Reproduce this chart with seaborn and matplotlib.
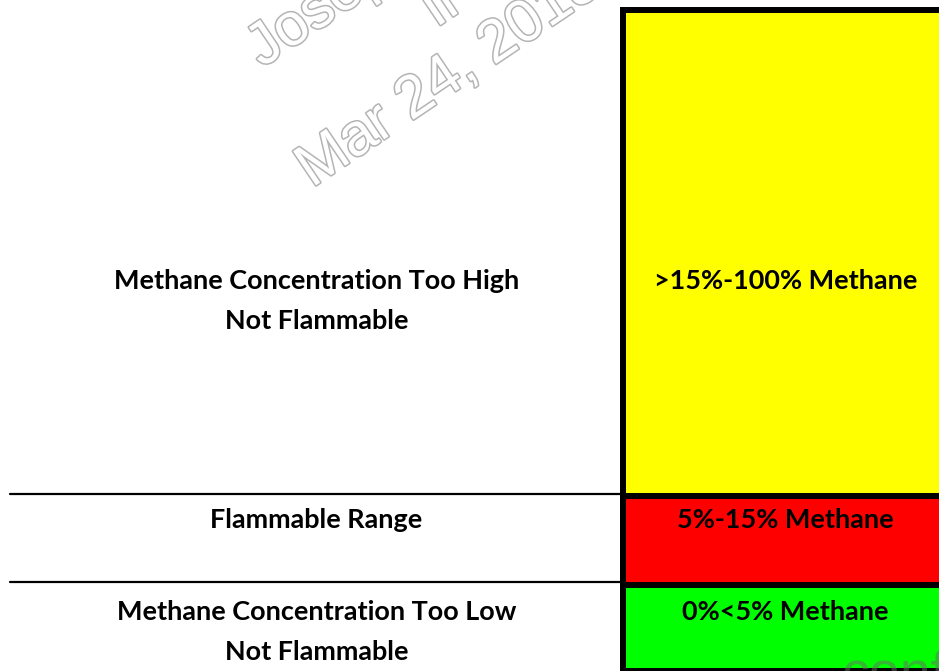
import numpy as np
import pandas as pd
import matplotlib
matplotlib.use("Agg")
import matplotlib.pyplot as plt
import matplotlib.patheffects as pe
import seaborn as sns

# Bands from bottom to top (heights are schematic display units, not %)
bands = ["Too Low", "Flammable", "Too High"]
band_heights = [86.5, 88.5, 486.3]
band_colors = ["#00ff00", "#ff0000", "#ffff00"]
range_labels = ["0%<5% Methane", "5%-15% Methane", ">15%-100% Methane"]
zone_labels = [
    ["Methane Concentration Too Low", "Not Flammable"],
    ["Flammable Range"],
    ["Methane Concentration Too High", "Not Flammable"],
]

W, H = 939, 671

sns.set_style("white")
plt.rcParams["font.family"] = ["Lato", "DejaVu Sans"]

fig = plt.figure(figsize=(W / 100, H / 100), dpi=100)
ax = fig.add_axes([0, 0, 1, 1])

df = pd.DataFrame({"band": bands, "height": band_heights, "color": band_colors})
df["top"] = np.cumsum(df["height"])

# Stacked look: draw the tallest cumulative bar first, then overlay smaller ones
for _, row in df.iloc[::-1].iterrows():
    sns.barplot(
        x=["zone"], y=[row["top"]], color=row["color"], saturation=1,
        edgecolor="black", linewidth=4.3, width=1, ax=ax,
    )

# place the bar so its left edge sits at pixel 623, right edge off-canvas
bar = ax.patches[0]
x0, bw = bar.get_x(), bar.get_width()
k = 477.0 / bw  # pixels per data unit
ax.set_xlim(x0 - 623 / k, x0 + (W - 623) / k)
ax.set_ylim(0, H)
ax.axis("off")


def fx(px):
    return px / W


def fy(py):
    return 1 - py / H


# thin separator lines on the left side, level with band boundaries
for py in [494, 582]:
    fig.add_artist(plt.Line2D([fx(10), fx(620)], [fy(py), fy(py)],
                              color="black", linewidth=1.6))

# fit font size so the long label matches the reference width
probe = fig.text(0, 0, "Methane Concentration Too High", fontsize=20, fontweight="bold")
fig.canvas.draw()
w = probe.get_window_extent(fig.canvas.get_renderer()).width
probe.remove()
fs = 20 * 405 / w

left_baselines = [[620, 660], [528], [289, 329]]
right_baselines = [620, 528, 289]
for lines, ys in zip(zone_labels, left_baselines):
    for txt, py in zip(lines, ys):
        fig.text(fx(316.5), fy(py), txt, ha="center", va="baseline",
                 fontsize=fs, fontweight="bold", color="black")
for txt, py in zip(range_labels, right_baselines):
    fig.text(fx(785.5), fy(py), txt, ha="center", va="baseline",
             fontsize=fs, fontweight="bold", color="black")

# outlined watermark
wm = dict(fontsize=43, color="white", rotation=34, rotation_mode="anchor",
          ha="left", va="baseline", family="Liberation Sans",
          path_effects=[pe.withStroke(linewidth=2.2, foreground="#b4b4b4")])
fig.text(fx(262), fy(68), "Joseph", **wm)
fig.text(fx(436), fy(28), "Ir", **wm)
fig.text(fx(312), fy(188), "Mar 24, 2018", **wm)
fig.text(fx(842), fy(690), "confidential", fontsize=40, color="#6a6a6a",
         alpha=0.5, family="Liberation Sans", ha="left", va="baseline")

fig.savefig("out.png", dpi=100)
